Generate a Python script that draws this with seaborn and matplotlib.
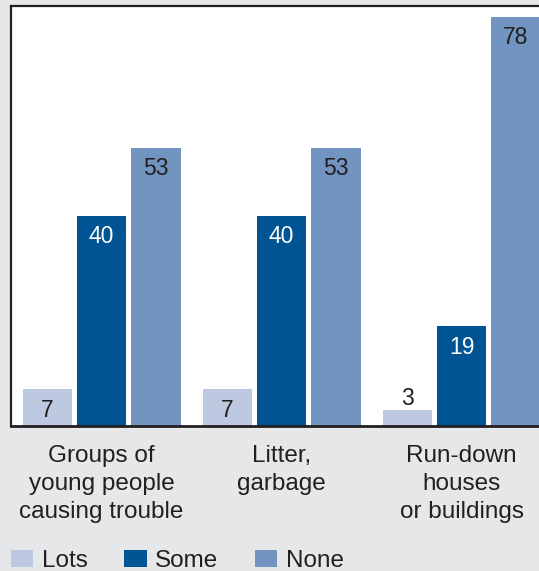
import matplotlib
matplotlib.use("Agg")
import matplotlib.pyplot as plt
from matplotlib.patches import Patch
import seaborn as sns
import pandas as pd

categories = ["Groups of\nyoung people\ncausing trouble", "Litter,\ngarbage", "Run-down\nhouses\nor buildings"]
series = ["Lots", "Some", "None"]
lots = [7, 7, 3]
some = [40, 40, 19]
none = [53, 53, 78]
colors = ["#bcc9e0", "#005493", "#7194c0"]
label_colors = ["#231f20", "#ffffff", "#231f20"]

rows = []
for s, vals in zip(series, [lots, some, none]):
    for c, v in zip(categories, vals):
        rows.append({"category": c, "series": s, "value": v})
df = pd.DataFrame(rows)

sns.set_style("white")
plt.rcParams["font.family"] = ["Liberation Sans", "DejaVu Sans"]

W, H = 539, 571
fig = plt.figure(figsize=(W / 100, H / 100), dpi=100)
fig.patch.set_facecolor("#e6e7e9")
ax = fig.add_axes([11 / W, 145 / H, 540.5 / W, 420 / H])
ax.set_facecolor("white")

sns.barplot(data=df, x="category", y="value", hue="series", order=categories,
            hue_order=series, palette=colors, saturation=1, width=0.908, gap=0.1,
            linewidth=0, legend=False, ax=ax)

ax.set_xlim(-0.503, 2.5)
ax.set_ylim(0, 80)
ax.set_xlabel("")
ax.set_ylabel("")
ax.set_yticks([])
ax.tick_params(axis="x", length=0, pad=13.5, labelsize=17.5, labelcolor="#231f20")
for t in ax.get_xticklabels():
    t.set_linespacing(1.37)

for side in ["left", "top", "bottom"]:
    ax.spines[side].set_visible(True)
    ax.spines[side].set_color("#231f20")
    ax.spines[side].set_linewidth(1.6)
ax.spines["right"].set_visible(False)
ax.spines["bottom"].set_linewidth(2.0)

for cont, tc in zip(ax.containers, label_colors):
    for bar in cont:
        h = bar.get_height()
        x = bar.get_x() + bar.get_width() / 2
        if h < 5:
            ax.annotate(f"{h:.0f}", (x, h), xytext=(0, 8.6), textcoords="offset points",
                        ha="center", va="center", fontsize=16.5, color="#231f20")
        else:
            ax.annotate(f"{h:.0f}", (x, h), xytext=(0, -15), textcoords="offset points",
                        ha="center", va="center", fontsize=16.5, color=tc)

handles = [Patch(facecolor=c, edgecolor="none", label=s) for c, s in zip(colors, series)]
fig.legend(handles=handles, loc="upper left", bbox_to_anchor=(11 / W, 21 / H),
           ncol=3, frameon=False, fontsize=17.5, handlelength=0.92, handleheight=0.7,
           handletextpad=0.35, columnspacing=1.5, borderpad=0, borderaxespad=0,
           labelcolor="#231f20")

fig.savefig("out.png", dpi=100, facecolor=fig.get_facecolor())
